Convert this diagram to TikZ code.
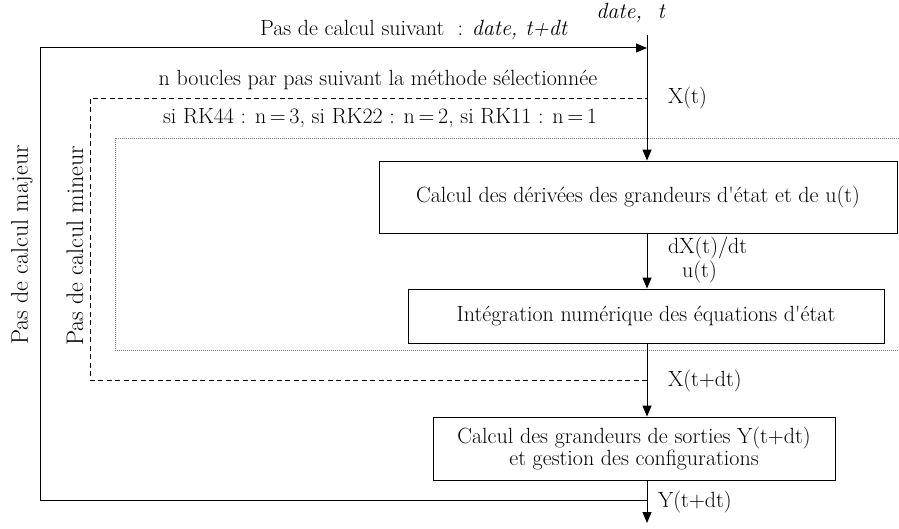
\documentclass[tikz,border=0pt]{standalone}
\usetikzlibrary{arrows.meta}
\begin{document}
\begin{tikzpicture}[x=1pt,y=-1pt,
  every node/.style={font=\fontsize{22}{25}\selectfont, inner sep=0pt},
  blk/.style={draw, line width=0.8pt, align=center},
  conn/.style={line width=1pt},
  arr/.style={conn, -{Triangle[length=11pt,width=9pt]}},
  dsh/.style={line width=0.9pt, dash pattern=on 5pt off 3.5pt},
  dot/.style={line width=0.6pt, gray, dash pattern=on 1pt off 1pt},
  lbl/.style={anchor=west},
  rlbl/.style={rotate=90, font=\fontsize{24}{27}\selectfont}]
\useasboundingbox (0,0) rectangle (899,529);
% blocks
\node[blk, minimum width=518pt, minimum height=72pt] (b1) at (638,197) {Calcul des dérivées des grandeurs d\textquotesingle état et de u(t)};
\node[blk, minimum width=476pt, minimum height=54pt] (b2) at (646,316) {Intégration numérique des équations d\textquotesingle état};
\node[blk, minimum width=402pt, minimum height=63pt] (b3) at (634,448.5) {Calcul des grandeurs de sorties Y(t+dt)\\[-3pt] et gestion des configurations};
% axis coordinates
\coordinate (top) at (647,35);
\coordinate (out) at (647,523);
\coordinate (ytop) at (647,48);
\coordinate (ybot) at (647,500);
\coordinate (yl1) at (40,48);
\coordinate (yl2) at (40,500);
\coordinate (dtop) at (647,98);
\coordinate (dbot) at (647,380);
\coordinate (dl1) at (90,98);
\coordinate (dl2) at (90,380);
\coordinate (p1) at (899,138);
\coordinate (p2) at (115,138);
\coordinate (p3) at (115,350);
\coordinate (p4) at (899,350);
% dotted inner frame
\draw[dot] (p1) -- (p2) -- (p3) -- (p4);
% dashed minor loop
\draw[dsh] (dbot) -- (dl2) -- (dl1) -- (dtop);
% major loop
\draw[arr] (ybot) -- (yl2) -- (yl1) -- (ytop);
% main flow
\draw[arr] (top) -- (top |- b1.north);
\draw[arr] (top |- b1.south) -- (top |- b2.north);
\draw[arr] (top |- b2.south) -- (top |- b3.north);
\draw[arr] (top |- b3.south) -- (out);
% labels
\node (lsuiv) at (414,30) {Pas de calcul suivant \ : \textit{date, t+dt}};
\node (ldate) at (631,13) {\textit{date, \ t}};
\node (lnb) at (378,80) {n boucles par pas suivant la méthode sélectionnée};
\node (lrk) at (380,118) {si RK44 : n\,=\,3, si RK22 : n\,=\,2, si RK11 : n\,=\,1};
\node[lbl] (lx) at (668,98) {X(t)};
\node[lbl] (ldx) at (668,248) {dX(t)/dt};
\node[lbl] (lu) at (682,272) {u(t)};
\node[lbl] (lxd) at (668,381) {X(t+dt)};
\node[lbl] (lyd) at (658,502) {Y(t+dt)};
\node[rlbl] (lmaj) at (22,245) {Pas de calcul majeur};
\node[rlbl] (lmin) at (75,246) {Pas de calcul mineur};
\end{tikzpicture}
\end{document}
